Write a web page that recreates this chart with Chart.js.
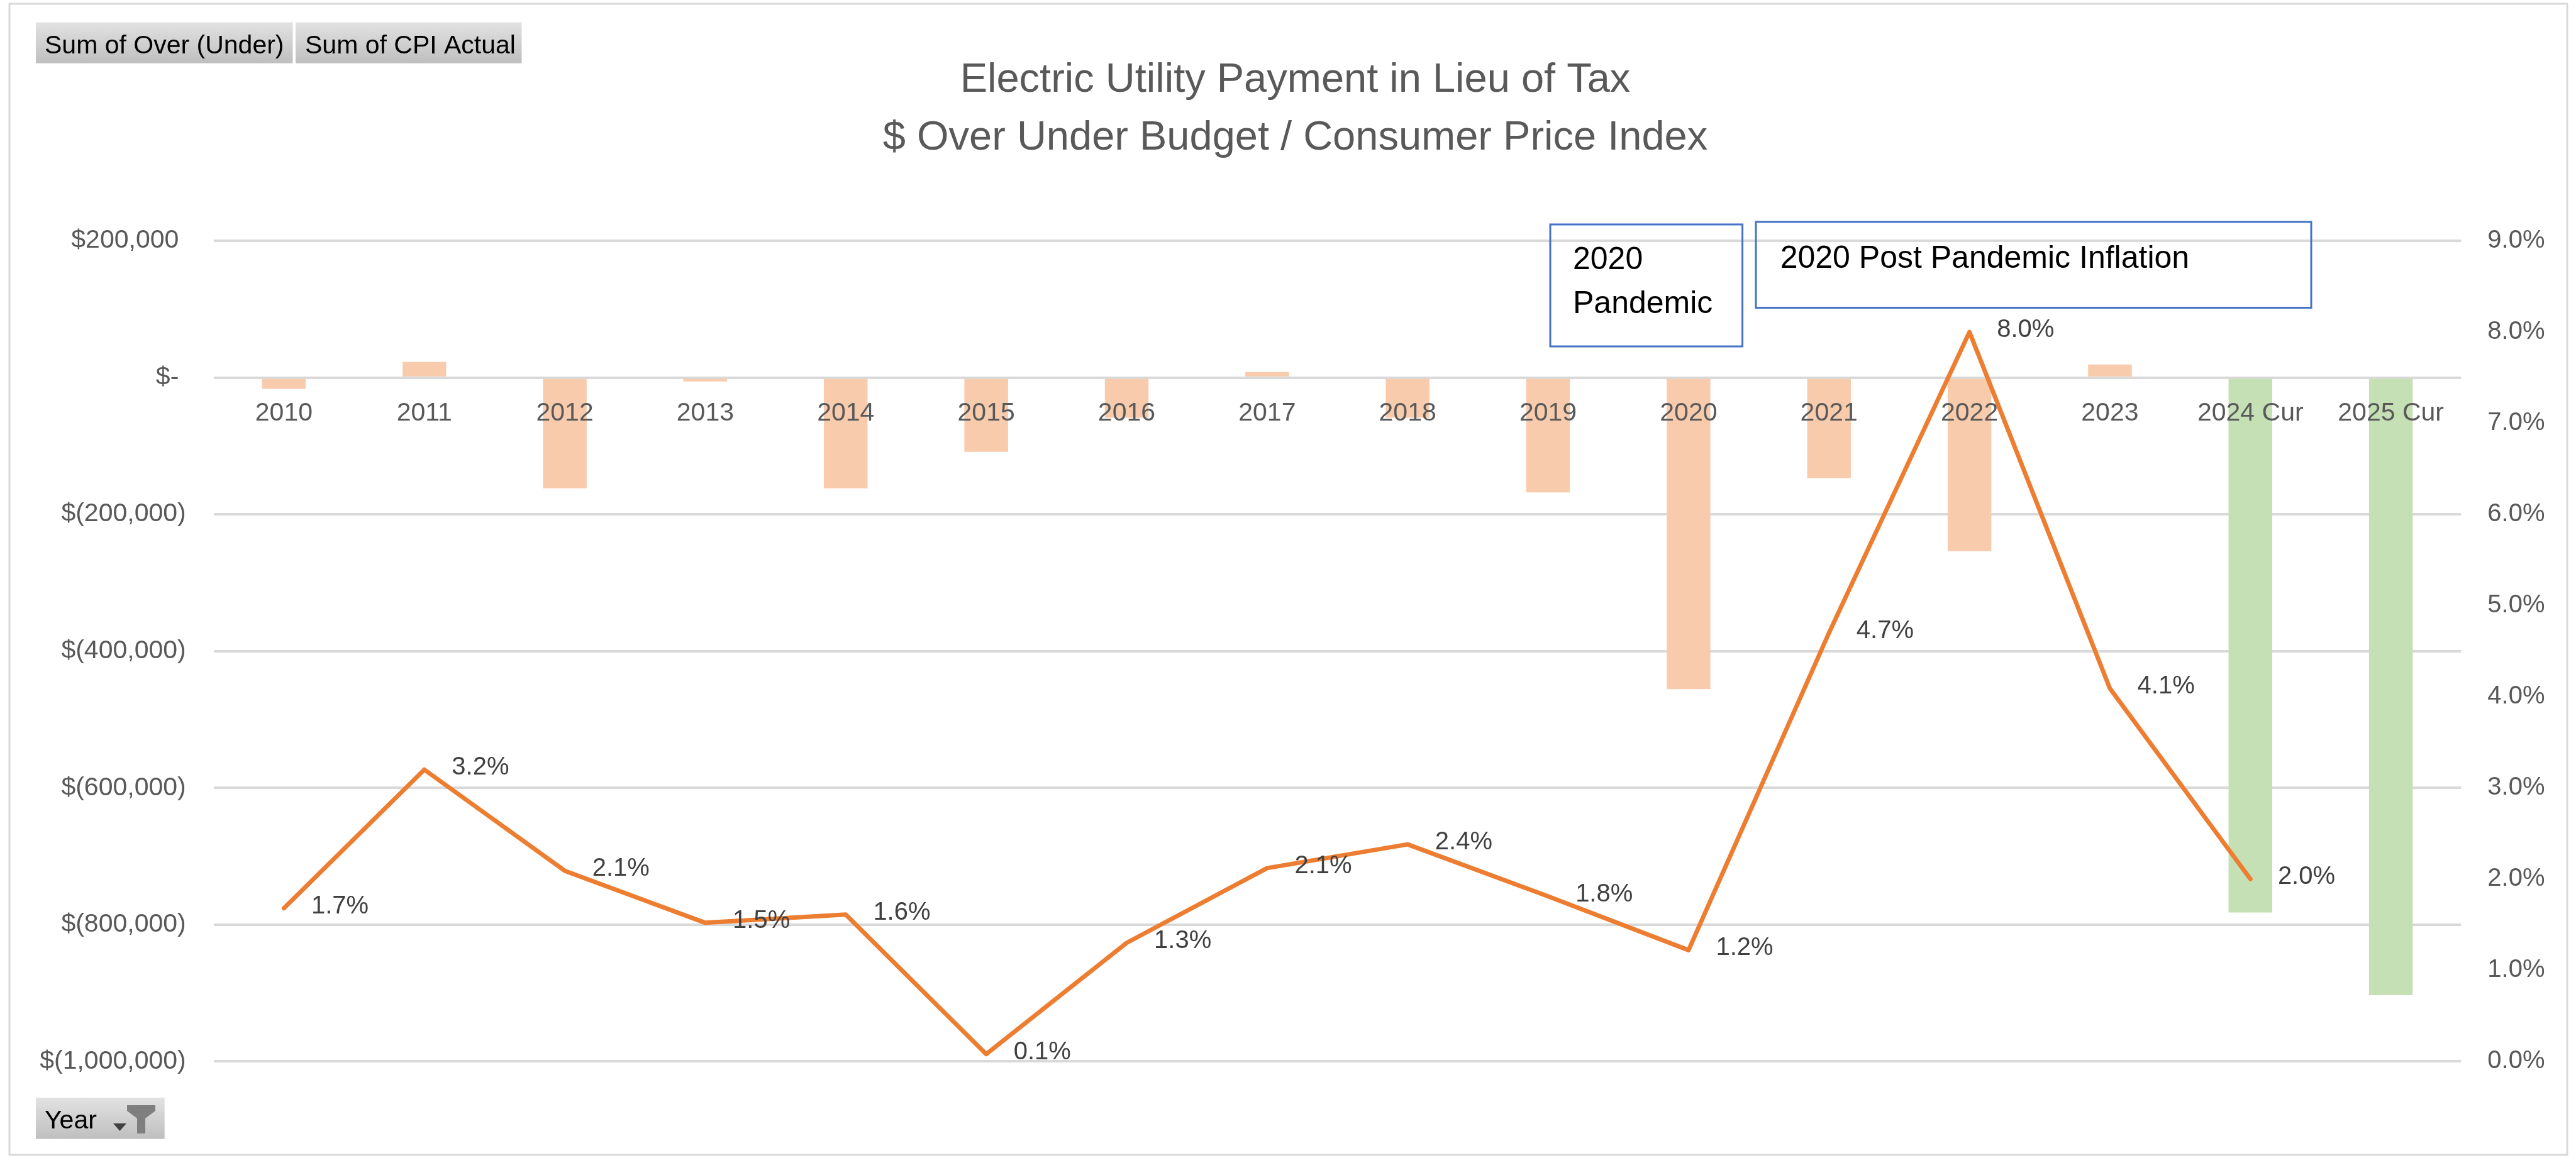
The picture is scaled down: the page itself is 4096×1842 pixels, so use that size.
<!DOCTYPE html>
<html>
<head>
<meta charset="utf-8">
<script src="https://cdn.jsdelivr.net/npm/chart.js@4.4.1/dist/chart.umd.min.js"></script>
<style>
  html, body { margin: 0; padding: 0; background: #ffffff; }
  #wrap { position: relative; width: 4096px; height: 1842px; }
</style>
</head>
<body>
<div id="wrap"><canvas id="c"></canvas></div>
<script>
// ---------------- data ----------------
const categories = ['2010', '2011', '2012', '2013', '2014', '2015', '2016', '2017',
                    '2018', '2019', '2020', '2021', '2022', '2023', '2024 Cur', '2025 Cur'];
const overUnder = [-16400, 22800, -161900, -5600, -161900, -108700, -58800, 8100,
                   -58800, -168000, -455600, -146900, -253900, 19300, -782400, -903200];
const cpiActual = [1.68, 3.20, 2.09, 1.52, 1.61, 0.08, 1.30, 2.12,
                   2.38, 1.81, 1.22, 4.70, 8.00, 4.09, 2.00, null];
const titleLines = ['Electric Utility Payment in Lieu of Tax', '$ Over Under Budget / Consumer Price Index'];
const fieldButtons = ['Sum of Over (Under)', 'Sum of CPI Actual'];
const axisButton = 'Year';
const noteBoxes = [['2020', 'Pandemic'], ['2020 Post Pandemic Inflation']];
const leftAxisRange = [-1000000, 200000, 200000];   // min, max, step
const rightAxisRange = [0, 9, 1];

// ---------------- styles ----------------
const FONT = "'Liberation Sans', Arial, sans-serif";
const AXIS_COLOR = '#595959';
const GRID_COLOR = '#D9D9D9';
const BAR_ACTUAL = '#F8CBAD';
const BAR_CURRENT = '#C5E0B4';
const LINE_COLOR = '#ED7D31';

function money(v) {
  if (v === 0) return '$- ';
  const s = Math.abs(v).toLocaleString('en-US');
  return v < 0 ? '$(' + s + ')' : '$' + s + ' ';
}

function drawButton(ctx, x, y, w, h, label, tx, ty) {
  const g = ctx.createLinearGradient(0, y, 0, y + h);
  g.addColorStop(0, '#E2E2E2');
  g.addColorStop(1, '#BFBFBF');
  ctx.fillStyle = g;
  ctx.fillRect(x, y, w, h);
  ctx.fillStyle = '#000000';
  ctx.font = '41px ' + FONT;
  ctx.textAlign = 'left';
  ctx.textBaseline = 'alphabetic';
  ctx.fillText(label, tx, ty);
}

const decor = {
  id: 'decor',
  beforeDraw(chart) {
    const ctx = chart.ctx;
    ctx.save();
    ctx.fillStyle = '#ffffff';
    ctx.fillRect(0, 0, chart.width, chart.height);
    ctx.strokeStyle = GRID_COLOR;
    ctx.lineWidth = 3;
    ctx.strokeRect(15, 6, 4067, 1831);
    drawButton(ctx, 57, 35.6, 408.5, 65, fieldButtons[0], 71, 85.2);
    drawButton(ctx, 470, 35.6, 359.5, 65, fieldButtons[1], 485, 85.2);
    drawButton(ctx, 57, 1746, 204.7, 65.7, axisButton, 71, 1795);
    // dropdown arrow
    ctx.fillStyle = '#404040';
    ctx.beginPath();
    ctx.moveTo(180, 1787); ctx.lineTo(201, 1787); ctx.lineTo(190.5, 1799);
    ctx.closePath(); ctx.fill();
    // funnel
    ctx.fillStyle = '#7F7F7F';
    ctx.beginPath();
    ctx.moveTo(202, 1758); ctx.lineTo(247, 1758); ctx.lineTo(247, 1767);
    ctx.lineTo(231, 1779); ctx.lineTo(231, 1803); ctx.lineTo(218, 1803);
    ctx.lineTo(218, 1779); ctx.lineTo(202, 1767);
    ctx.closePath(); ctx.fill();
    ctx.restore();
  },
  afterDatasetsDraw(chart) {
    const ctx = chart.ctx;
    const meta = chart.getDatasetMeta(1);
    ctx.save();
    ctx.fillStyle = '#404040';
    ctx.font = '40px ' + FONT;
    ctx.textAlign = 'left';
    ctx.textBaseline = 'middle';
    meta.data.forEach((pt, i) => {
      const v = cpiActual[i];
      if (v === null || v === undefined) return;
      ctx.fillText(v.toFixed(1) + '%', pt.x + 43.6, pt.y - 3);
    });
    ctx.restore();
  },
  afterDraw(chart) {
    const ctx = chart.ctx;
    ctx.save();
    ctx.strokeStyle = '#4472C4';
    ctx.lineWidth = 3;
    ctx.strokeRect(2465, 357, 305.6, 194);
    ctx.strokeRect(2792, 353, 883, 136.5);
    ctx.fillStyle = '#000000';
    ctx.font = '50px ' + FONT;
    ctx.textAlign = 'left';
    ctx.textBaseline = 'alphabetic';
    ctx.fillText(noteBoxes[0][0], 2501, 428);
    ctx.fillText(noteBoxes[0][1], 2501, 497.5);
    ctx.fillText(noteBoxes[1][0], 2830.7, 425.5);
    ctx.restore();
  }
};

new Chart(document.getElementById('c'), {
  type: 'bar',
  data: {
    labels: categories,
    datasets: [
      {
        type: 'bar',
        label: fieldButtons[0],
        data: overUnder,
        yAxisID: 'y',
        backgroundColor: categories.map(c => /Cur$/.test(c) ? BAR_CURRENT : BAR_ACTUAL),
        borderWidth: 0,
        categoryPercentage: 1.0,
        barPercentage: 0.311,
        order: 2
      },
      {
        type: 'line',
        label: fieldButtons[1],
        data: cpiActual,
        yAxisID: 'y1',
        borderColor: LINE_COLOR,
        backgroundColor: LINE_COLOR,
        borderWidth: 7,
        pointRadius: 0,
        pointHoverRadius: 0,
        tension: 0,
        spanGaps: false,
        borderCapStyle: 'round',
        borderJoinStyle: 'round',
        order: 1
      }
    ]
  },
  options: {
    responsive: true,
    maintainAspectRatio: false,
    animation: false,
    devicePixelRatio: 1,
    layout: { padding: { left: 55.7, right: 32.7, top: 0, bottom: 153.7 } },
    plugins: {
      legend: { display: false },
      tooltip: { enabled: false },
      title: {
        display: true,
        text: titleLines,
        color: AXIS_COLOR,
        font: { family: FONT, size: 65, weight: 'normal', lineHeight: 92 / 65 },
        padding: { top: 82, bottom: 117.1 }
      }
    },
    scales: {
      x: {
        type: 'category',
        position: { y: 0 },
        offset: true,
        grid: { display: false, drawTicks: false },
        border: { display: false },
        ticks: {
          z: 1,
          color: AXIS_COLOR,
          font: { family: FONT, size: 41 },
          padding: 32,
          maxRotation: 0,
          autoSkip: false
        }
      },
      y: {
        type: 'linear',
        position: 'left',
        min: leftAxisRange[0],
        max: leftAxisRange[1],
        grid: { color: GRID_COLOR, lineWidth: 4, drawTicks: false },
        border: { display: false },
        ticks: {
          stepSize: leftAxisRange[2],
          color: AXIS_COLOR,
          font: { family: FONT, size: 41 },
          padding: 44,
          callback: v => money(v)
        },
        afterFit: s => { s.width = 284; }
      },
      y1: {
        type: 'linear',
        position: 'right',
        min: rightAxisRange[0],
        max: rightAxisRange[1],
        grid: { display: false, drawTicks: false },
        border: { display: false },
        ticks: {
          stepSize: rightAxisRange[2],
          color: AXIS_COLOR,
          font: { family: FONT, size: 40 },
          padding: 42,
          callback: v => v.toFixed(1) + '%'
        },
        afterFit: s => { s.width = 150; }
      }
    }
  },
  plugins: [decor]
});
</script>
</body>
</html>
